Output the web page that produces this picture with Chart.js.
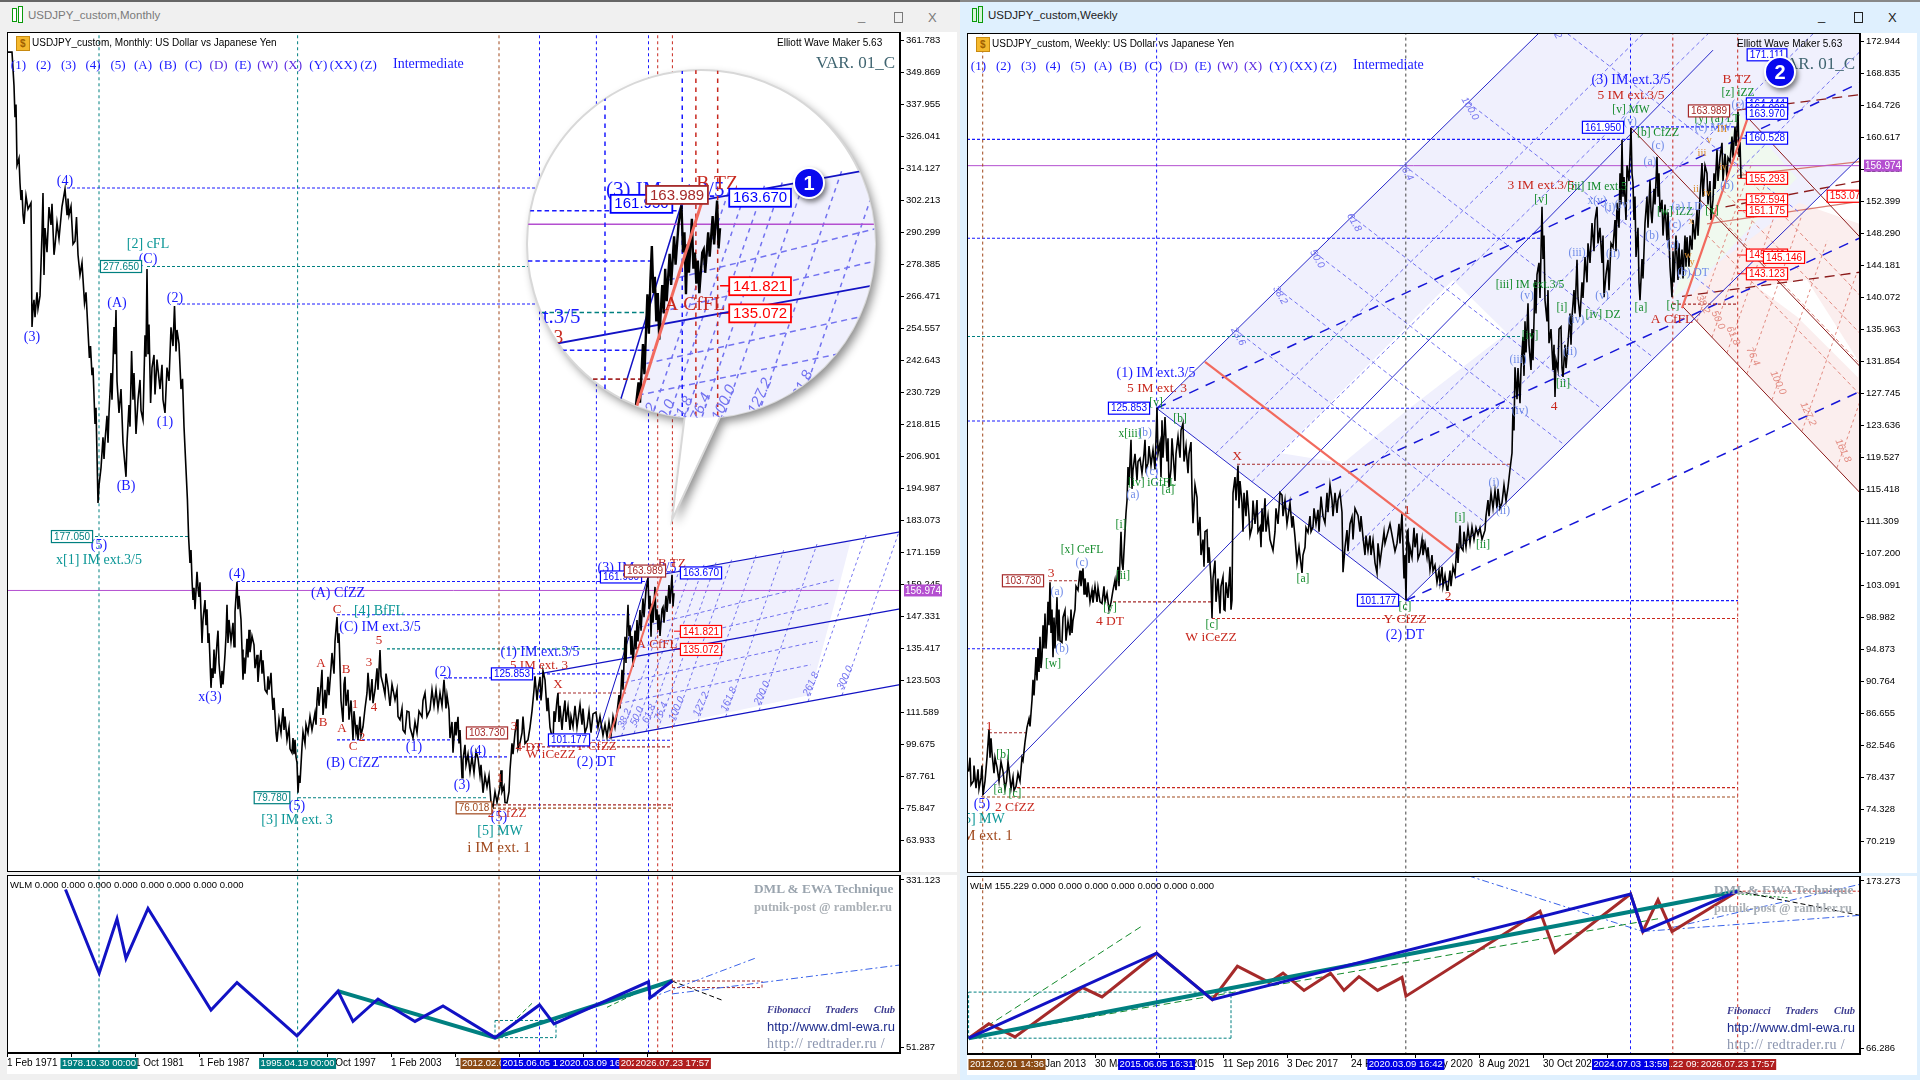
<!DOCTYPE html>
<html>
<head>
<meta charset="utf-8">
<title>USDJPY_custom</title>
<script src="https://cdn.jsdelivr.net/npm/chart.js@4"></script>
<style>
html,body{margin:0;padding:0;width:1920px;height:1080px;overflow:hidden;background:#f0f0f0;font-family:"Liberation Sans",sans-serif}
canvas{position:absolute;background:#fff}
.t{position:absolute;white-space:nowrap;line-height:1}
#winL{position:absolute;left:0;top:0;width:960px;height:1080px;background:#f0f0f0;border-top:2px solid #666;box-sizing:border-box}
#winR{position:absolute;left:960px;top:0;width:960px;height:1080px;background:#dff0fe;border-top:2px solid #888;box-sizing:border-box}
#lens{position:absolute;left:527px;top:70px;width:348px;height:348px;border-radius:50%;overflow:hidden}
#lens canvas{background:transparent;left:0;top:0}
.badge{position:absolute;width:28px;height:28px;border-radius:50%;background:#0808ee;border:2px solid #fff;box-shadow:2px 3px 5px rgba(0,0,0,.5);color:#fff;font:bold 20px/28px "Liberation Sans";text-align:center}
.btnbox{position:absolute;width:7px;height:9px;border:1px solid #777}
</style>
</head>
<body>
<div id="winL"></div>
<div id="winR"></div>
<canvas id="mainL" width="950" height="840" style="left:7px;top:32px"></canvas>
<canvas id="subL" width="950" height="199" style="left:7px;top:875px"></canvas>
<canvas id="mainR" width="950" height="840" style="left:967px;top:33px"></canvas>
<canvas id="subR" width="950" height="199" style="left:967px;top:876px"></canvas>
<div id="lens"><canvas id="lensC" width="348" height="348"></canvas></div>
<script>
// monthly chart: [bars since 1 Feb 1971, price]
var monthPath = [[1,357.5],[5,357.5],[7,345],[8,333.3],[9,338],[10,315.4],[12,318],[13,308.7],[14,302.4],[15,306.1],[16,297],[17,293.5],[19,304],[21,299],[24,301.3],[25,255.1],[26,262],[27,265.2],[28,258.8],[30,268],[31,262],[33,266.7],[35,290],[36,305],[37,274.5],[38,292],[40,283],[42,299.8],[44,293.1],[45,301],[47,282],[48,285.3],[50,294],[52,288],[55,300],[58,306.5],[60,297],[61,303],[62,296.8],[64,300],[66,286],[68,287.1],[69.5,296.1],[71,282],[73,274.5],[75,279],[77.5,264.1],[79,268],[82.4,243.6],[83.5,248],[85,237.2],[86,240],[88,219],[89,225],[91,189.6],[92,196],[94,202.6],[96,214],[97,206],[98,212.7],[100,222],[101,212],[102,223.1],[104,238],[105,228],[107,255.1],[108,245],[109,261.4],[110,235],[112,223.1],[114,232],[116,212],[119,199.3],[120,212],[122,226],[123,218],[124.6,246.2],[126,228],[127,238],[129,215.3],[131,228],[133,235.4],[134,224],[136,220.5],[138,252],[139,244],[140,276.7],[141,245],[142,256],[143.6,226.8],[145,240],[147,244.7],[148,230],[150,243],[153,232],[155,241],[156,228],[158,223.1],[160,240],[162,235],[164,255],[166,248],[167.5,262.9],[169,246],[170,254],[172,248.8],[174,232],[175.5,235.8],[177,218],[178,210],[180.4,191],[181.6,176.9],
[183,167.2],[184,172],[185,160.9],[186,153.4],[187,158],[188,150],[190,163.9],[191,158],[192,154.6],[193,160],[195,137.4],[196,146],[198,153.4],[199,144],[200,150],[201,137.4],[202,141],[204,120.7],[205,128],[206,124.4],[207,135],[208,126],[210,137.4],[211,142],[212,130],[214,120.7],[215,127],[216,122],[218,133],[219,140],[220,151.6],[221,137.4],[222,146],[224,138],[226,144.9],[227,136],[228,149],[230,160.2],[231,150],[232,155],[234,146],[235,135],[236,123.7],[237,132],[238,126],[240,139],[241,132],[242,142.3],[243,134],[245,140],[247,136.7],[248,128],[250,133],[251,122.9],[252,128],[254,134.8],[255,126],[256,131],[258,120],[260,118.8],[261,125],[262,120],[264,126.3],[265,118],[266,112.5],[267,117],[269,104],[270,100.6],[272,109],[274,104],[276,113.2],[277,105],[278,110],[280,101.3],[282,106],[283,98],[285,96.5],[286,102],[287,96],[288,101.3],[289,95],[290,92.8],[291,81.6],[292,88],[293,85.3],[294,92],[295,98.7],[296,104.3],[298,100],[299,107],[301,103.9],[303,110],[305,105],[308,111.4],[309,107],[310,116],[311,121],[312,114],[314,122],[315,127.4],[316,110.6],[318,120],[319,113],[321,124.8],[322,118],[324,128],[325,133.7],[327,126],[328,138],[330,147.1],[331,137.4],[332,141],[334,116],[336,108],[337,122],[338,124.8],[339,114],[341,120],[342,108.8],[344,116],[346,101.3],[347,112],[349,104],[350,106.9],[351,101.3],[353,110],[354,103],[356,106.2],[358,113],[360,118.8],[361,126.3],[363,116],[365,124],[366,115],[368,119.9],[370,128],[371,120],[373,134.8],[374,125],[376,122],[378,118.1],[379,126],[381,121],[383,114],[385,122],[388,116.2],[390,120],[391,110],[393,108.8],[395,113],[396,105],[398,103.9],[400,112],[402,111.7],[403,106],[406,102],[408,108],[410,104],[412,112],[415,109.9],[416,116],[418,118.8],[420,110],[423,112.5],[425,120],[427,114],[429,120],[431,113],[433,118.8],[435,114],[437,123.7],[439,113],[440,118],[442,112.5],[443,102],[445,108],[446,96.5],[448,108],[449,103],[451,109.9],[452,100],[453,105],[455,87.2],[456,94],[458,99.5],[459,92],[461,96],[463,89.4],[465,95],[467,89],[469,97],[471,94.6],[473,88],[474,92],[476,81.6],[478,88],[480,83.8],[482,88],[484,78],[486,76.4],[488,82],[490,78],[493,83.8],[494,90],[495,82],[497,84],[498,78],[500,77.9],[502,82],[503,90.1],[505,100],[506,96],[508,103.9],[510,109],[511,98],[513,100.2],[515,103.9],[516,110],[518,100],[521,101.3],[523,106],[525,112],[527,119.9],[528,125],[530,116],[531,120],[533,124.8],[534,116],[535,119.9],[536,127],[538,123.7],[540,112],[541,117],[543,106],[545,102.4],[546,100.2],[547,112],[548,108],[550,116],[551,118.8],[552,108],[553,114],[555,105],[556,109.9],[558,116],[559,108],[561,113.6],[563,105],[564,110],[566,106.2],[568,114],[570,106],[573,114.4],[575,107],[576,113],[578,104],[580,106.2],[582,112],[584,104],[586,111],[589,111.7],[591,106],[593,110],[596,103],[598,107],[600,102.4],[602,108],[604,103],[606,110],[608,106],[610,111.4],[612,118],[613,113],[615,127.4],[616,120],[618,139.7],[619,130],[620,143],[621,151.6],[622,140],[623,144],[624,133],[625,140],[626,128.5],[628,142],[629,135],[630,146],[631,138],[633,149.7],[634,142],[636,154],[637,147],[639,157],[641,161.6],[642,150],[643,155],[644,139.7],[645,152],[646,145],[648,158.3],[649,146],[650,150],[651,142.3],[652,148],[653,140],[655,150],[656,150.8],[657,145],[659,155],[660,149],[662,159],[663,152],[665,162.8],[666,151],[667,156]];
var monthTicksY = [361.783,349.869,337.955,326.041,314.127,302.213,290.299,278.385,266.471,254.557,242.643,230.729,218.815,206.901,194.987,183.073,171.159,159.245,147.331,135.417,123.503,111.589,99.675,87.761,75.847,63.933];
var monthTicksX = [0,64,128,192,256,320,384,448,512,576,640];
var monthLabelsX = ['1 Feb 1971','1 Jun 1976','1 Oct 1981','1 Feb 1987','1 Jun 1992','1 Oct 1997','1 Feb 2003','1 Jun 2008','1 Oct 2013','1 Feb 2019','1 Jun 2024'];
var monthWlm = [[58.5,315],[92.2,175],[110,266],[119,199.8],[141,283.3],[204,113.5],[230,159.5],[290,70.2],[331,145.1],[346,94.4],[371,131.9],[408,94.4],[436,120.3],[488,67.3],[532.5,122],[547,90.4],[641.5,160.7],[643,133.6],[665.4,162.4]];
var monthTrend = [[331,145.1],[488,67.3],[665.4,162.4]];
var monthSubTicks = [331.123,51.287];

// weekly chart: [bars since Oct 2011, price]
var weekPath = [[1.6,79.2],[3,81],[4,77.5],[6.5,78],[7,80],[9,77.1],[11,79.5],[12,77],[14,78.4],[15,80],[16,76.2],[18,78],[20,81],[22,84.65],[23,81],[24,83.5],[25,81.6],[27,79],[28,81],[30,79.8],[32,78],[34,80.5],[36,79.2],[38,77],[39.5,78],[41,80.5],[42,79.5],[44,77],[46,78.5],[47,76.8],[49,77.3],[51,79],[53,78],[55,81],[56,80.65],[58,83],[60,84.9],[62,86],[63,85],[65,88.4],[66,91],[67,89],[69,93.9],[70,90.9],[71,95],[72,92],[73,96.5],[74,92.5],[75,93.9],[76,98],[77,95],[78,99.5],[79,95],[80,97],[81,101],[82,98],[83,103.5],[84,97],[85,100],[86,93.9],[87,99],[88,95],[90,101.6],[91,96],[92,100],[93,96],[95,95.8],[96,99],[98,99.9],[99,96],[101,98.5],[103,96.7],[104,100],[105,97],[106,98.6],[108,100],[109,103],[111,102.5],[113,105],[114,103],[116,105.3],[117,102],[118,104],[120,101.6],[121,103.5],[123,101],[125,102.5],[126,100.9],[128,103],[130,101],[131,102.8],[133,101],[135,100.8],[137,103],[138,101],[140,102.1],[142,100],[144,100.9],[146,102.5],[148,103.8],[149,102.5],[151,105.5],[152,103],[154,110],[155,106],[156,105.1],[158,110],[159,112.4],[160,114],[161,118.3],[162,116],[164,121.8],[165,115.5],[166,117.9],[168,120],[170,116.6],[171,119],[173,119.4],[175,117.5],[177,120],[178,121.8],[179,118],[181,118.8],[182,121],[184,118.5],[186,120.5],[188,118],[190,125.9],[191,120],[193,121.4],[194,117],[195,124.3],[196,119.5],[198,124.7],[200,119],[201,122],[202,115.7],[204,118],[205,122],[206,120.1],[208,116.5],[209,120],[211,122.2],[213,119.5],[214,123],[216,123.9],[217,119],[219,121],[221,117.5],[222,120],[224,121.5],[225,115],[226,111.1],[228,116],[230,114.4],[231,109.5],[233,111.9],[234,107],[236,109],[237,105.5],[238,110],[240,110.2],[241,106],[242,108],[244,103.8],[245,98.9],[246,104],[248,106.3],[249,101],[251,104],[253,99.5],[254,103],[256,104.2],[257,100],[258,99.9],[259,103.5],[261,101.5],[263,105.5],[264,100],[265,101.2],[266,114.95],[268,117],[269,114],[271,118.5],[272,113],[273,116.5],[275,113.7],[276,110],[277,115],[279,112],[280,115.3],[282,112],[283,109.5],[285,110.6],[286,114],[288,111],[290,114.05],[291,110],[293,110.6],[294,108],[295,113],[296,110],[298,114.3],[299,110],[301,112],[303,109],[306,107.6],[308,110],[309,113],[311,111],[313,115],[315,114.7],[316,112],[318,114],[320,111],[321,111.9],[323,113.7],[325,110.5],[326,112],[328,109.3],[330,106],[332,108],[335,104.7],[336,107],[338,108],[339,110.5],[341,109.9],[343,112],[344,110],[346,110.6],[347,113],[349,111],[351,112.8],[352,110],[354,114.5],[356,112],[358,111.1],[360,115],[361,112.5],[363,116],[365,114.05],[366,112],[368,115],[370,112.4],[371,114.05],[373,115],[375,112.5],[376,104.8],[378,108],[380,110.2],[381,107.5],[383,111],[385,111.9],[386,109],[388,113],[391,112.1],[393,110],[394,112],[396,109.3],[398,107],[399,109.5],[401,107.6],[403,109.5],[404,107],[406,108.9],[408,106],[410,104.7],[411,108.5],[413,106],[415,108],[417,110],[418,108.5],[420,109.5],[423,111],[425,109.6],[428,107.5],[430,108.5],[432,111],[433,108.5],[435,112.4],[436,108],[437,104],[438,107],[439,101.2],[440,110],[441,110.2],[442,106],[443,108],[445,106.7],[447,110.5],[448,108],[450,109.8],[451,106.5],[453,107.25],[455,109],[456,107],[458,108.5],[460,106.7],[461,108],[463,105.1],[465,107],[466,105],[468,105.7],[470,103.5],[472,105],[473,103.5],[475,105.5],[476,103],[478,104.4],[480,102.5],[481,102.8],[483,105],[484,103],[486,105.5],[488,104.5],[490,108.5],[491,106],[493,110.8],[494,108],[496,107.6],[497,110],[499,108],[501,110.5],[503,108.5],[505,110.6],[507,109],[509,110.5],[511,109.6],[513,110.5],[515,109],[518,110.2],[519,112],[521,114.05],[522,112],[524,115],[526,113],[528,115.3],[530,113],[531,115.5],[533,113],[535,113.7],[537,116],[539,114],[541,115.7],[543,118],[545,120.1],[546,126],[547,123],[548,131.1],[550,127],[551,131],[553,126.5],[554,131],[556,135],[557,130],[558,137],[559,133],[561,139.3],[562,134],[564,130.75],[565,136],[566,132],[568,142.3],[569,138],[570,143],[572,144.5],[573,140],[575,151.7],[576,145],[577,148],[578,139.7],[580,137],[581,141],[582,134.2],[584,136],[586,130.75],[587,134],[588,127.3],[589,132],[591,130.75],[592,136],[594,136.3],[595,131],[596,129.85],[598,134],[599,131],[601,134.2],[603,138],[604,134],[605,137.55],[607,141],[608,138],[610,144.9],[611,140],[613,137.55],[615,142],[616,140],[618,145.25],[620,142],[621,147],[623,144.5],[625,149.6],[627,146],[628,150],[630,151.7],[631,147],[633,149],[635,144.5],[636,148],[637,140.1],[639,143],[641,144.9],[642,141],[644,147],[646,146.5],[648,150],[649,146],[650,152.2],[652,149],[653,156],[654,152],[655,160.3],[656,153],[657,155.5],[659,150],[660,157],[662,155],[664,161.8],[665,156],[666,154.75],[667,150],[668,153],[669,145.25],[671,149],[672,142],[673,139.7],[675,145],[676,142.5],[678,149.6],[680,153],[681,149],[683,155.1],[684,151],[685,149.6],[687,154],[688,152],[690,158.1],[691,153],[692,156],[693,151],[695,152.6],[696,148],[698,152],[700,147.4],[701,151],[703,144],[705,140.1],[706,146],[707,142],[708,145.25],[709,148],[711,142.3],[712,147],[713,143],[715,146.2],[716,142.5],[718,148],[719,144],[720,147.8],[722,144],[723,148],[725,146.2],[726,150],[728,147.5],[730,151.3],[731,148],[733,153],[735,157.3],[736,153],[738,157],[740,156],[741,152],[743,155],[744,150],[746,152.6],[747,156],[748,154],[750,159],[751,155],[753,158],[755,159.9],[756,155],[758,158.5],[760,155.4],[761,158],[763,157.5],[765,160.7],[766,158],[768,162],[769,159.5],[771,163.9],[772,158.1],[773,160],[774,155.4]];
var weekTicksY = [172.944,168.835,164.726,160.617,156.508,152.399,148.290,144.181,140.072,135.963,131.854,127.745,123.636,119.527,115.418,111.309,107.200,103.091,98.982,94.873,90.764,86.655,82.546,78.437,74.328,70.219];
var weekTicksX = [64,128,192,256,320,384,448,512,576,640];
var weekLabelsX = ['20 Jan 2013','30 Mar 2014','21 Jun 2015','11 Sep 2016','3 Dec 2017','24 Feb 2019','17 May 2020','8 Aug 2021','30 Oct 2022','21 Jan 2024'];
var weekWlm = [[1.6,72.9],[189.6,127.1],[245.3,97.5],[663.5,164.9],[675.8,141],[770.7,166.7]];
var weekRed = [[1.6,72.9],[21.8,82.1],[48,73.7],[115.5,105.2],[135,99.2],[189.6,127.1],[245.3,97.5],[270.4,118.8],[302,108.5],[316,114.4],[337,103.4],[363.5,114.4],[377,103.4],[392,112.2],[410.6,103.4],[435,111.7],[439,99.7],[573,153.9],[588,127.6],[663.5,164.9],[675.8,141],[691,161.2],[705,141],[770.7,166.7]];
var weekTrend = [[1.6,72.9],[770.7,166.7]];
var weekSubTicks = [173.273,66.286];

var lastPrice = 156.974;

var BLUE='#1a1aff', NAVY='#1212c4', TEAL='#008080', TEXTTEAL='#0b9696', BROWN='#a0481c', RED='#c8281e', DRED='#a52a2a', MAG='#b44fd0', GREEN='#128a2a', LBLUE='#6f8be8', FIB='#7272f0', SALMON='#f26a5e', ORANGE='#d98a2b';
var SERIF='"Liberation Serif"', SANS='"Liberation Sans"';
var AXIS_W = 57;

// bar of each marker line, colour picked per line
var monthVert = [[92,TEAL],[290.6,TEAL],[492,BROWN],[532.5,BLUE],[589.4,BLUE],[641.5,BLUE],[650.7,RED],[665.4,RED]];
var weekVert = [[15.7,BROWN],[189.6,BLUE],[438.8,'#444'],[663.5,BLUE],[705.8,RED],[770.7,RED]];

// from bar, to bar, price, colour
var monthLevels = [
 [60,589,306.9,BLUE],[140,589,277.65,TEAL],[170,589,263.7,BLUE],[83,181,177.05,TEAL],[230,642,160.3,BLUE],
 [330,623,147.9,BLUE],[380,618,135.2,TEAL],[437,505,124.4,BLUE],[505,623,125.9,BLUE],[551,620,118.8,DRED],
 [330,455,101.3,BLUE],[545,665,101.2,BLUE],[372,500,95,BLUE],[291,480,79.78,TEAL],[515,665,98.7,DRED],
 [486,665,77.1,DRED],[486,665,75.9,BROWN],[655,668,163.9,BLUE]
];
var weekLevels = [
 [0,664,160.35,BLUE],[664,771,161.95,BLUE],[0,575,147.66,BLUE],[0,555,135.06,TEAL],[189,550,125.85,BLUE],[0,190,124.2,BLUE],
 [270,543,118.65,DRED],[439,771,101.16,BLUE],[245,771,98.86,RED],[146,245,101,DRED],[82,115,103.7,DRED],[0,75,94.97,BLUE],
 [50,771,77.16,RED],[15,771,75.96,BROWN],[22,60,84.2,DRED],[706,771,139.2,DRED]
];

// wave labels: text, bar, price
var monthBlue = [['(4)',58,309.3],['(3)',25,251.2],['(C)',141,280.4],['(A)',110,264],['(2)',168,265.9],['(1)',158,219.7],['(B)',119,195.9],['(5)',92,173.9],['(4)',230,163.1],['x(3)',203,117.3],['(A) CfZZ',331,156],['(C) IM ext.3/5',373,143.4],['(B) CfZZ',346,92.7],['(1)',407,98.7],['(2)',436,126.3],['(3)',455,84.2],['(4)',471,97.2],['(1) IM ext.3/5',533,134.1],['(2) DT',589,92.8],['(5)',492,72.6],['(5)',290,76.7],['(3) IM ext.3/5',630,165.4]];
var monthTeal = [['[2] cFL',141,286],['x[1] IM ext.3/5',92,168.3],['[4] BfFL',372,149.1],['[5] MW',493,67.4],['[3] IM ext. 3',290,71.2]];
var monthRed = [['C',330,150],['5',372,138.2],['3',362,130],['4',367,113.2],['1',348,114.3],['2',355,102],['C',346,98.7],['A',314,129.6],['B',316,107.7],['B',339,127.4],['A',335,105.4],['5 IM ext. 3',532,128.9],['X',551,121.8],['3',507,106.2],['4 DT',522,98.3],['W iCeZZ',544,95.7],['Y CfZZ',589,98.7],['1',493,86.8],['2 CfZZ',500,74],['B TZ',665,166.9],['A CfFL',650,137]];
var monthBrown = [['i IM ext. 1',492,61]];
var monthBoxes = [['277.650',114,277.65,TEAL],['177.050',65,177.05,TEAL],['79.780',265,79.78,TEAL],['125.853',505,125.9,'#0000ff'],['103.730',480,103.9,DRED],['101.177',562,101.3,'#0000ff'],['76.018',467,76,BROWN],['161.950',614,162,'#0000ff'],['163.989',638,164.2,DRED],['163.670',694,163.5,'#0000ff'],['141.821',694,141.7,'#ff0000'],['135.072',694,135,'#ff0000']];
var fibNames = ['38.2','50.0','61.8','76.4','100.0','127.2','161.8','200.0','261.8','300.0'];
var monthFibBars = [614.6,627,639,651,666.6,691,718.7,752,801,835];

var weekBlue = [['(5)',15,74.95],['(1) IM ext.3/5',189,130.3],['(2) DT',438,96.7],['(3) IM ext.3/5',664,167.9]];
var weekRedLb = [['2 CfZZ',48,74.55],['1',22,85],['3',84,104.6],['4 DT',143,98.5],['W iCeZZ',244,96.4],['X',270,119.6],['5 IM ext. 3',190,128.4],['2',481,101.7],['Y CfZZ',438,98.7],['1',440,112.7],['4',587,126.1],['A CfFL',705,137.3],['5 IM ext.3/5',664,166],['3 IM ext.3/5',574,154.4],['B TZ',770,168.1]];
var weekGreen = [['[b]',36,81.3],['[a]',33,76.8],['[c]',48,76.3],['[w]',86,93],['[y]',143,100.2],['[ii]',156,104.3],['[x] CeFL',115,107.7],['[c]',245,98],['[a]',336,103.9],['[i]',154,110.8],['[iv] iGfFL',185,116.2],['[a]',201,115.3],['x[iii]',163,122.5],['[b]',213,124.5],['[v]',189,126.5],['[c]',438,100.4],['[i]',493,111.7],['[ii]',516,108.3],['[ii]',596,128.9],['[iv]',563,135.1],['[i]',595,138.7],['[iv] DZ',636,137.8],['[a]',674,138.7],['[c]',706,139],['[b] CfZZ',691,161.2],['[v] MW',664,164.1],['[v]',574,152.6],['[iii] IM ext.5',630,154.2],['[iii] IM ext.3/5',563,141.7],['[w] iZZ',708,151],['[x]',745,151.2],['[z] iZZ',771,166.3],['[y] (a) LT',750,163]];
var weekLight = [['(a)',90,102.3],['(b)',95,94.9],['(c)',115,106],['(a)',166,114.7],['(c)',185,117.7],['(b)',178,122.7],['(i)',527,116.3],['(ii)',536,112.7],['(iii)',551,132],['(iv)',553,125.5],['(iv)',609,137.2],['(ii)',603,133],['(v)',635,140.2],['(iii)',610,145.8],['(b)',685,147.9],['(a)',683,157.5],['(c)',691,159.5],['(v)',663,162.6],['x(v)',630,152.5],['(i)',643,151.5],['(iv)',656,151.9],['(ii)',646,145.7],['(v)',560,140.2],['(c)',708,149.4],['(a) LD',720,151.7],['(a)',706,146.8],['(b) DT',726,143.2],['(c) MW',746,161.8],['(b)',760,154.4],['(c)',771,164.8]];
var weekOrange = [['y',725,144.6],['w',721,145.5],['x',724,149.9],['iv',740,153.4],['ii',729,154],['iii',735,158.6],['v',742,160.2],['III',755,161.6],['iv',756,156.8]];
var weekBrown = [['i IM ext. 1',14,70.9]];
var weekTeal = [['[5] MW',15,73.1]];
var weekBoxes = [['125.853',162,125.85,'#0000ff'],['103.730',56,103.7,DRED],['101.177',411,101.2,'#0000ff'],['161.950',636,161.9,'#0000ff'],['163.989',742,164,DRED],['171.111',800,171.2,'#0000ff'],['164.444',800,164.9,'#0000ff'],['164.098',800,164.3,'#0000ff'],['163.970',800,163.7,'#0000ff'],['160.528',800,160.5,'#0000ff'],['155.293',800,155.35,'#ff0000'],['152.594',800,152.6,'#ff0000'],['151.175',800,151.2,'#ff0000'],['145.446',800,145.5,'#ff0000'],['145.146',817,145.2,'#ff0000'],['143.123',800,143.1,'#ff0000'],['153.07',878,153.05,'#ff0000']];
var weekFallBars = [269,311,348,385,437,501,584];
var weekFallNames = ['23.6','38.2','50.0','61.8','76.4','100.0','127.2'];
var weekRiseFrac = [.236,.382,.618,.764];
var weekHandleFrac = [.382,.5,.618,.764];
var weekCrossBars = [730,745,760,780,805,835,870];

function seg(list,x1,y1,x2,y2,color,w,dash,order){
  list.push({data:[{x:x1,y:y1},{x:x2,y:y2}],borderColor:color,borderWidth:w,borderDash:dash||[],pointRadius:0,showLine:true,order:order||0});
}
function series(path,color,w,order){
  return {data:path.map(function(p){return {x:p[0],y:p[1]};}),borderColor:color,borderWidth:w,pointRadius:0,showLine:true,tension:0,order:order||0};
}
function verticals(list,vert,lo,hi,k){
  vert.forEach(function(v){seg(list,v[0],lo,v[0],hi,v[1],k,[3*k,3*k]);});
}

// pitchfork of the monthly chart
function lowLine(b){return 102+(b-602)*0.0684;}
function monthSets(k){
  var d=[series(monthPath,'#000',1.6*k,-1)];
  verticals(d,monthVert,52,365,k);
  monthLevels.forEach(function(l){seg(d,l[0],l[2],l[1],l[2],l[3],1.1*k,[3*k,2*k]);});
  seg(d,0,lastPrice,893,lastPrice,MAG,1*k);
  seg(d,602,102,893,121.9,NAVY,1.2*k);
  seg(d,532,125.9,893,150.1,NAVY,1.2*k);
  seg(d,641,162,893,178.8,NAVY,1.2*k);
  seg(d,590,102,641,162,NAVY,1*k);
  seg(d,602,102,655,162.8,SALMON,2*k,[],-2);
  seg(d,667,141.8,680,141.8,'#ff0000',1*k);
  seg(d,667,135.07,680,135.07,'#ff0000',1*k);
  [13.5,21.8,35.2,43.5].forEach(function(off){
    var b=602+off/1.43;
    seg(d,b,lowLine(b)+off*0.9,793+0.8*off,lowLine(793+0.8*off)+off,FIB,1*k,[4*k,3*k]);
  });
  monthFibBars.forEach(function(b){
    seg(d,b,lowLine(b),b+58,lowLine(b)+62,FIB,1*k,[3*k,3*k]);
  });
  return d;
}
function weekSets(){
  var d=[series(weekPath,'#000',1.6,-1)];
  verticals(d,weekVert,66,175,1);
  weekLevels.forEach(function(l){seg(d,l[0],l[2],l[1],l[2],l[3],1.1,[3,2]);});
  seg(d,0,lastPrice,893,lastPrice,MAG,1);
  seg(d,189.6,125.85,572,174,NAVY,0.9);
  seg(d,14.4,76,746,171.8,NAVY,0.9);
  seg(d,439,101.18,893,158.1,NAVY,0.9);
  seg(d,189.6,125.85,439,101.18,NAVY,0.9);
  seg(d,189.6,125.85,893,167.6,'#1616d8',1.5,[10,8]);
  seg(d,316,113.66,893,147.7,'#1616d8',1.5,[10,8]);
  seg(d,439,101.18,893,128,'#1616d8',1.5,[10,8]);
  weekRiseFrac.forEach(function(f){
    var b=189.6+f*249.4, v=125.85-f*24.67;
    seg(d,b,v,b+(174-v)/0.126,174,FIB,1,[4,3]);
  });
  weekFallBars.forEach(function(b){
    var v=125.85+0.126*(b-189.6);
    var t=(v-101.18-0.1258*(b-439))/(0.0989+0.1258);
    seg(d,b,v,b+t,v-0.0989*t,FIB,1,[4,3]);
  });
  seg(d,238,131.8,486,107.4,SALMON,2.2,[],-2);
  seg(d,715,138.7,781,163.2,SALMON,2.2,[],-2);
  seg(d,663.5,161.9,893,131.2,'#8b1a1a',1);
  seg(d,781,163.1,893,147.8,'#8b1a1a',1);
  seg(d,715.6,138.9,893,115,'#8b1a1a',1);
  seg(d,715,140.2,893,143.3,'#8b1a1a',1.3,[10,6]);
  seg(d,758.5,151.7,893,155,'#8b1a1a',1.3,[10,6]);
  seg(d,770,164.1,893,166.1,'#8b1a1a',1.3,[10,6]);
  seg(d,770,155.7,893,157.5,'#d97a70',1.2);
  seg(d,740,149.5,893,152.4,'#d97a70',1.2);
  weekHandleFrac.forEach(function(f){
    var b=715+f*66, v=138.7+f*24.5;
    seg(d,b,v,893,v-0.134*(893-b),'#e28a80',1,[4,3]);
  });
  weekCrossBars.forEach(function(b){
    var v=138.9-0.134*(b-715.6);
    seg(d,b,v,b+55,v+20.4,'#e28a80',1,[3,3]);
  });
  [155.35,152.6,151.2,145.5,143.1].forEach(function(p){seg(d,771,p,783,p,'#ff0000',1);});
  seg(d,771,160.5,783,160.5,'#0000ff',1);
  return d;
}

function overlay(spec,k){
  return {
    id:'overlay',
    beforeDatasetsDraw:function(chart){
      var c=chart.ctx,x=chart.scales.x,y=chart.scales.y;
      c.save();
      (spec.shades||[]).forEach(function(s){
        c.fillStyle=s[0];c.beginPath();
        s[1].forEach(function(p,i){
          var px=x.getPixelForValue(p[0]),py=y.getPixelForValue(p[1]);
          if(i)c.lineTo(px,py);else c.moveTo(px,py);
        });
        c.closePath();c.fill();
      });
      c.restore();
    },
    afterDatasetsDraw:function(chart){
      var c=chart.ctx,x=chart.scales.x,y=chart.scales.y,a=chart.chartArea;
      c.save();
      c.beginPath();c.rect(a.left,a.top,a.right-a.left,a.bottom-a.top);c.clip();
      c.textAlign='center';c.textBaseline='middle';
      (spec.labels||[]).forEach(function(g){
        c.font=(g.size*k)+'px '+SERIF;c.fillStyle=g.color;
        g.items.forEach(function(t){c.fillText(t[0],x.getPixelForValue(t[1]),y.getPixelForValue(t[2]));});
      });
      (spec.rot||[]).forEach(function(t){
        c.save();
        c.translate(x.getPixelForValue(t[1]),y.getPixelForValue(t[2]));
        c.rotate(t[3]*Math.PI/180);
        c.font='italic '+(10*k)+'px '+SANS;c.fillStyle=t[4];
        c.fillText(t[0],0,0);
        c.restore();
      });
      c.font=(10*k)+'px '+SANS;
      (spec.boxes||[]).forEach(function(b){
        var w=c.measureText(b[0]).width+5*k,h=12*k,px=x.getPixelForValue(b[1]),py=y.getPixelForValue(b[2]);
        c.fillStyle='#fff';c.fillRect(px-w/2,py-h/2,w,h);
        c.strokeStyle=b[3];c.lineWidth=1.2*k;c.strokeRect(px-w/2,py-h/2,w,h);
        c.fillStyle=b[3];c.fillText(b[0],px,py+0.5);
      });
      c.restore();
    },
    afterDraw:function(chart){
      var c=chart.ctx,x=chart.scales.x,y=chart.scales.y,a=chart.chartArea;
      c.save();
      if(!spec.noFrame){
        c.strokeStyle='#000';c.lineWidth=1;
        c.strokeRect(a.left+0.5,a.top+0.5,a.right-a.left-1,a.bottom-a.top-1);
      }
      if(spec.tag){
        var py=y.getPixelForValue(lastPrice);
        c.fillStyle=MAG;c.fillRect(a.right+4,py-6,38,12);
        c.fillStyle='#fff';c.font='10px '+SANS;c.textAlign='center';c.textBaseline='middle';
        c.fillText(lastPrice.toFixed(3),a.right+23,py+0.5);
      }
      (spec.tags||[]).forEach(function(t){
        var px=x.getPixelForValue(t[1]),top=a.bottom+5,w=77;
        c.fillStyle=t[2];c.fillRect(px-w/2,top,w,11);
        c.fillStyle='#fff';c.font='9.5px '+SANS;c.textAlign='center';c.textBaseline='middle';
        c.fillText(t[0],px,top+5.5);
      });
      if(spec.bubble){
        var s=spec.bubble;
        c.shadowColor='rgba(0,0,0,.45)';c.shadowBlur=10;c.shadowOffsetX=4;c.shadowOffsetY=5;
        c.fillStyle='#fff';c.strokeStyle='#d8d8d8';c.lineWidth=2;
        c.beginPath();
        c.arc(s.cx,s.cy,s.r,Math.PI*0.53,Math.PI*0.465,false);
        c.lineTo(s.tipx,s.tipy);
        c.closePath();c.fill();
        c.shadowColor='transparent';
        c.stroke();
      }
      c.restore();
    }
  };
}

function yAxis(ticks,min,max){
  return {type:'linear',position:'right',min:min,max:max,
    afterBuildTicks:function(a){a.ticks=ticks.map(function(v){return {value:v};});},
    afterFit:function(a){a.width=AXIS_W;a.paddingTop=0;a.paddingBottom=0;},
    ticks:{autoSkip:false,padding:2,color:'#000',font:{family:'Liberation Sans',size:9.5},callback:function(v){return v.toFixed(3);}},
    grid:{drawOnChartArea:false,color:'#000',tickLength:4},border:{color:'#000'}};
}
function xAxisHidden(min,max){return {type:'linear',display:false,min:min,max:max};}
function xAxisTime(ticks,labels){
  return {type:'linear',position:'bottom',min:0,max:893,
    afterBuildTicks:function(a){a.ticks=ticks.map(function(v){return {value:v};});},
    afterFit:function(a){a.height=21;a.paddingLeft=0;a.paddingRight=0;},
    ticks:{autoSkip:false,maxRotation:0,align:'start',padding:0,color:'#000',font:{family:'Liberation Sans',size:10},callback:function(v){return labels[ticks.indexOf(v)];}},
    grid:{drawOnChartArea:false,color:'#000',tickLength:4},border:{color:'#000'}};
}
function draw(id,sets,xs,ys,spec,k){
  return new Chart(document.getElementById(id),{
    type:'scatter',
    data:{datasets:sets},
    options:{responsive:false,animation:false,devicePixelRatio:1,normalized:true,
      layout:{padding:0},
      plugins:{legend:{display:false},tooltip:{enabled:false}},
      events:[],
      scales:{x:xs,y:ys}},
    plugins:[overlay(spec,k||1)]
  });
}

var monthShades = [['#f0f0fd',[[602,102],[641,162],[844,176],[826,150],[803,118]]]];
var monthLabels = [{color:BLUE,size:14,items:monthBlue},{color:TEXTTEAL,size:14,items:monthTeal},{color:RED,size:13,items:monthRed},{color:BROWN,size:15,items:monthBrown}];
var monthRot = fibNames.map(function(n,i){var b=monthFibBars[i];return [n,b+3,lowLine(b)+6.5,-65,FIB];});

draw('mainL',monthSets(1),xAxisHidden(0,893),yAxis(monthTicksY,52.1,365),
  {shades:monthShades,labels:monthLabels,boxes:monthBoxes,rot:monthRot,tag:true,
   bubble:{cx:694,cy:212,r:174,tipx:665,tipy:488}});
draw('lensC',monthSets(1.5),xAxisHidden(536.8,771.5),{type:'linear',display:false,min:109.2,max:195},
  {shades:monthShades,labels:monthLabels,boxes:monthBoxes,rot:monthRot,noFrame:true},1.5);

var subLSets=[series(monthWlm,NAVY,3,-2),series(monthTrend,TEAL,4,-1)];
verticals(subLSets,monthVert,41,340,1);
seg(subLSets,488,96,549,96,TEAL,1,[3,2]);seg(subLSets,488,67.3,549,67.3,TEAL,1,[3,2]);
seg(subLSets,488,67.3,488,96,TEAL,1,[3,2]);seg(subLSets,549,67.3,549,96,TEAL,1,[3,2]);
seg(subLSets,665,140.4,893,188.8,'#3a63e8',1,[7,3,2,3]);
seg(subLSets,643,133.6,748,200,'#3a63e8',1,[7,3,2,3]);
seg(subLSets,665,162,755,162,DRED,1,[3,2]);seg(subLSets,665,151,755,151,DRED,1,[3,2]);seg(subLSets,755,151,755,162,DRED,1,[3,2]);
seg(subLSets,665,162,715,130,'#000',1,[5,3]);
seg(subLSets,510,100,527,128,GREEN,1,[5,3]);
seg(subLSets,600,118,640,150,GREEN,1,[5,3]);
draw('subL',subLSets,xAxisTime(monthTicksX,monthLabelsX),yAxis(monthSubTicks,41.6,339.3),
  {tags:[['1978.10.30 00:00',92,TEAL],['1995.04.19 00:00',290.6,TEAL],['2012.02.01 14:36',492,'#8b4a14'],['2015.06.05 16:31',532.5,'#0000e6'],['2024.07.03 13:59',641.5,'#0000e6'],['2020.03.09 16:42',589.4,'#0000e6'],['2025.01.22 09:12',650.7,'#b01e1e'],['2026.07.23 17:57',665.4,'#b01e1e']]});

var weekShades = [
 ['#f0f0fd',[[189.6,125.85],[572,174],[893,174],[893,158.1],[439,101.18]]],
 ['#ffffff',[[313,120.1],[486,142.3],[540,135.5],[440,125.6],[376,118.8]]],
 ['#fbeeee',[[715.6,138.9],[893,115],[893,149.5],[832,152.2],[752,144.6]]],
 ['#ffffff',[[790,141.4],[840,142.3],[891,132],[891,129.8],[830,137.6]]],
 ['#f0f9ef',[[706,140],[771,163.9],[830,155.4],[746,144]]]
];
var weekLabels = [{color:BLUE,size:14,items:weekBlue},{color:RED,size:13.5,items:weekRedLb},{color:GREEN,size:11.5,items:weekGreen},{color:LBLUE,size:11.5,items:weekLight},{color:ORANGE,size:10.5,items:weekOrange},{color:BROWN,size:15,items:weekBrown},{color:TEXTTEAL,size:14,items:weekTeal}];
var weekRot = weekFallNames.map(function(n,i){var b=weekFallBars[i];return [n,b+2,125.85+0.126*(b-189.6)-0.8,60,FIB];});
weekCrossBars.forEach(function(b,i){weekRot.push([fibNames[i],b+6,138.9-0.134*(b-715.6)+2.2,65,'#e28a80']);});

draw('mainR',weekSets(),xAxisHidden(0,893),yAxis(weekTicksY,66.2,174),
  {shades:weekShades,labels:weekLabels,boxes:weekBoxes,rot:weekRot,tag:true});

var subRSets=[series(weekWlm,NAVY,3,-3),series(weekTrend,TEAL,4,-2),series(weekRed,DRED,3,-1)];
verticals(subRSets,weekVert,62,177,1);
seg(subRSets,1.6,102.3,264,102.3,TEAL,1,[3,2]);seg(subRSets,1.6,72.9,264,72.9,TEAL,1,[3,2]);
seg(subRSets,1.6,72.9,1.6,102.3,TEAL,1,[3,2]);seg(subRSets,264,72.9,264,102.3,TEAL,1,[3,2]);
seg(subRSets,1.6,72.9,175.5,144.7,GREEN,1,[7,4]);
seg(subRSets,1.6,72.9,691,149.1,GREEN,1,[7,4]);
seg(subRSets,501,176.6,675.8,141,'#3a63e8',1,[7,3,2,3]);
seg(subRSets,675.8,141,893,151.3,'#3a63e8',1,[7,3,2,3]);
seg(subRSets,706,143.6,893,171.1,'#3a63e8',1,[7,3,2,3]);
seg(subRSets,770.7,166.7,893,151.3,'#000',1,[5,3]);
seg(subRSets,770.7,166.7,893,166.7,RED,1,[3,2]);
seg(subRSets,770.7,165,822,162.5,GREEN,1,[2,2]);
draw('subR',subRSets,xAxisTime(weekTicksX,weekLabelsX),yAxis(weekSubTicks,62.8,176.4),
  {tags:[['2012.02.01 14:36',40,'#8b4a14'],['2015.06.05 16:31',189.6,'#0000e6'],['2020.03.09 16:42',438.8,'#0000e6'],['2025.01.22 09:12',705.8,'#b01e1e'],['2024.07.03 13:59',663.5,'#0000e6'],['2026.07.23 17:57',770.7,'#b01e1e']]});

// window chrome and fixed captions
function txt(s,x,y,css){
  var e=document.createElement('div');
  e.className='t';e.textContent=s;
  e.style.left=x+'px';e.style.top=y+'px';
  e.style.cssText+=';'+css;
  document.body.appendChild(e);
  return e;
}
var menu = ['(1)','(2)','(3)','(4)','(5)','(A)','(B)','(C)','(D)','(E)','(W)','(X)','(Y)','(XX)','(Z)'];
var menuX = [18.4,43.5,68.6,93,118,143,168,193.5,218.6,243,267.6,293,318.4,343.5,368.6];
function chrome(ox,dy,title,head,wlm,active){
  var col=active?'#222':'#7a7a7a';
  txt(title,ox+28,9,'font:11.5px '+SANS+';color:'+col);
  [[ox+12,8,3,12],[ox+18,6,3,15]].forEach(function(r){
    txt('',r[0],r[1],'width:'+r[2]+'px;height:'+r[3]+'px;border:1px solid #0a9a0a;background:'+(active?'#d8f5d8':'#fff'));
  });
  txt('_',ox+858,8,'font:13px '+SANS+';color:'+col);
  var b=document.createElement('div');b.className='btnbox';
  b.style.left=(ox+894)+'px';b.style.top='12px';b.style.borderColor=col;document.body.appendChild(b);
  txt('X',ox+928,10,'font:13px '+SANS+';color:'+col);
  txt('$',ox+16,36+dy,'font:bold 10px '+SANS+';color:#a06000;background:#f5b92e;padding:1px 3px;border:1px solid #c88a10');
  txt(head,ox+32,37+dy,'font:10px '+SANS+';color:#000');
  txt('Elliott Wave Maker 5.63',ox+777,37+dy,'font:10px '+SANS+';color:#000');
  menu.forEach(function(m,i){
    var cl=(m==='(D)'||m==='(W)'||m==='(X)')?'#5a2ae0':BLUE;
    txt(m,ox+menuX[i],57+dy,'font:13px '+SERIF+';color:'+cl+';transform:translateX(-50%)');
  });
  txt('Intermediate',ox+393,56+dy,'font:14px '+SERIF+';color:#1a1aff');
  txt('VAR. 01_C',ox+816,53+dy,'font:17px '+SERIF+';color:#3f6470');
  txt(wlm,ox+10,879+dy,'font:9.5px '+SANS+';color:#000');
  txt('DML & EWA Technique',ox+754,881+dy,'font:bold 13.3px '+SERIF+';color:#9aa4ae');
  txt('putnik-post @ rambler.ru',ox+754,900+dy,'font:bold 12.5px '+SERIF+';color:#aab0b6');
  txt('Fibonacci',ox+767,1004+dy,'font:italic bold 10.5px '+SERIF+';color:#3c3c90');
  txt('Traders',ox+825,1004+dy,'font:italic bold 10.5px '+SERIF+';color:#3c3c90');
  txt('Club',ox+874,1004+dy,'font:italic bold 10.5px '+SERIF+';color:#3c3c90');
  txt('http://www.dml-ewa.ru',ox+767,1019+dy,'font:13px '+SANS+';color:#1c2a8c');
  txt('http:// redtrader.ru /',ox+767,1036+dy,'font:14px '+SERIF+';color:#8a94ae;letter-spacing:.4px');
}
chrome(0,0,'USDJPY_custom,Monthly','USDJPY_custom, Monthly:  US Dollar vs Japanese Yen','WLM 0.000 0.000 0.000 0.000 0.000 0.000 0.000 0.000',false);
chrome(960,1,'USDJPY_custom,Weekly','USDJPY_custom, Weekly:  US Dollar vs Japanese Yen','WLM 155.229 0.000 0.000 0.000 0.000 0.000 0.000 0.000',true);

function badge(s,x,y){
  var e=document.createElement('div');e.className='badge';e.textContent=s;
  e.style.left=(x-16)+'px';e.style.top=(y-16)+'px';document.body.appendChild(e);
}
badge('1',809,183);
badge('2',1780,72);
</script>
</body>
</html>
